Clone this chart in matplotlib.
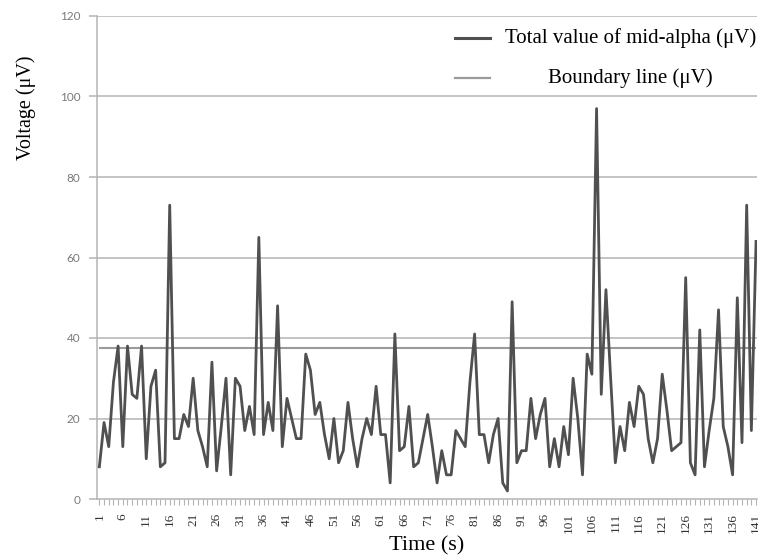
import matplotlib
matplotlib.use("Agg")
import matplotlib.pyplot as plt

# valores (un punto por segundo)
tiempos = list(range(1, 142))
voltaje = [
    8, 19, 13, 29, 38, 13, 38, 26, 25, 38,
    10, 28, 32, 8, 9, 73, 15, 15, 21, 18,
    30, 17, 13, 8, 34, 7, 18, 30, 6, 30,
    28, 17, 23, 16, 65, 16, 24, 17, 48, 13,
    25, 20, 15, 15, 36, 32, 21, 24, 16, 10,
    20, 9, 12, 24, 15, 8, 15, 20, 16, 28,
    16, 16, 4, 41, 12, 13, 23, 8, 9, 15,
    21, 13, 4, 12, 6, 6, 17, 15, 13, 29,
    41, 16, 16, 9, 16, 20, 4, 2, 49, 9,
    12, 12, 25, 15, 21, 25, 8, 15, 8, 18,
    11, 30, 20, 6, 36, 31, 97, 26, 52, 30,
    9, 18, 12, 24, 18, 28, 26, 15, 9, 15,
    31, 22, 12, 13, 14, 55, 9, 6, 42, 8,
    17, 25, 47, 18, 13, 6, 50, 14, 73, 17,
    64,
]
limite = 37.5
etiquetas_x = list(range(1, 142, 5))
ticks_y = [0, 20, 40, 60, 80, 100, 120]

SERIF = "Liberation Serif"
gris_grid = "#b4b4b4"

fig = plt.figure(figsize=(7.58, 5.59), dpi=100)
ax = fig.add_axes([97 / 758, 1 - 499 / 559, 660 / 758, 483 / 559])

for yv in ticks_y[1:]:
    ax.axhline(yv, color=gris_grid, lw=1.1, zorder=1)

ax.hlines(limite, tiempos[0], tiempos[-1], color="#9a9a9a", lw=1.5, zorder=2)
ax.plot(tiempos, voltaje, color="#505050", lw=2.0, zorder=3)

ax.set_xlim(0.5, 141.2)
ax.set_ylim(0, 120)

for lado in ["top", "right"]:
    ax.spines[lado].set_visible(False)
ax.spines["left"].set_color(gris_grid)
ax.spines["bottom"].set_color(gris_grid)
ax.spines["left"].set_linewidth(1.1)
ax.spines["bottom"].set_linewidth(1.1)

ax.set_yticks(ticks_y)
ax.set_yticklabels([str(v) for v in ticks_y], family="Lato", fontsize=8.5, color="#7a7a7a")
ax.tick_params(axis="y", length=6, color=gris_grid, width=1.1, pad=6)

ax.set_xticks(etiquetas_x)
ax.set_xticklabels([str(v) for v in etiquetas_x], rotation=90, family=SERIF,
                   fontsize=9.5, color="#333333")
ax.set_xticks(tiempos, minor=True)
ax.tick_params(axis="x", which="both", length=4, color=gris_grid, width=0.8, pad=6)

ax.set_ylabel("Voltage (μV)", family=SERIF, fontsize=14.5)
ax.yaxis.set_label_coords(-0.093, 0.81)
ax.set_xlabel("Time (s)", family=SERIF, fontsize=16)
ax.xaxis.set_label_coords(0.5, -0.078)

# leyenda dibujada a mano
ax.plot([0.542, 0.595], [0.954, 0.954], transform=ax.transAxes, color="#505050",
        lw=2.2, clip_on=False)
ax.text(0.618, 0.954, "Total value of mid-alpha (μV)", transform=ax.transAxes,
        family=SERIF, fontsize=15, va="center", ha="left")
ax.plot([0.542, 0.595], [0.872, 0.872], transform=ax.transAxes, color="#9a9a9a",
        lw=1.6, clip_on=False)
ax.text(0.808, 0.872, "Boundary line (μV)", transform=ax.transAxes,
        family=SERIF, fontsize=15, va="center", ha="center")

fig.savefig("out.png", dpi=100)
